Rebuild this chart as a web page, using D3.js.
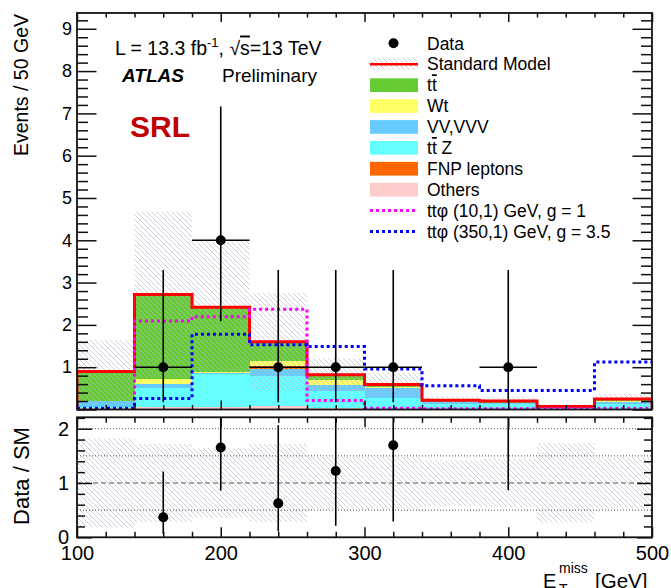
<!DOCTYPE html>
<html>
<head>
<meta charset="utf-8">
<script src="https://cdn.jsdelivr.net/npm/d3@7"></script>
<style>
  body { margin: 0; background: #fff; }
  svg { display: block; }
  text { font-family: "Liberation Sans", Arial, Helvetica, sans-serif; fill: #000; }
</style>
</head>
<body>
<svg id="chart" width="671" height="588"></svg>
<script>
// ---- E_T^miss binning (GeV) ----
const binEdges = [100, 140, 180, 220, 260, 300, 340, 380, 420, 460, 500];

// ---- Standard Model backgrounds, events per bin (stacked bottom to top) ----
const others = [0.03, 0.05, 0.06, 0.08, 0.03, 0.02, 0.01, 0.01, 0.005, 0.01];
const ttZ    = [0.03, 0.45, 0.78, 0.72, 0.41, 0.26, 0.12, 0.11, 0.04, 0.13];
const vvVVV  = [0.13, 0.10, 0.02, 0.16, 0.14, 0.22, 0.04, 0.03, 0.01, 0.03];
const fnp    = [0.00, 0.00, 0.00, 0.06, 0.01, 0.00, 0.00, 0.00, 0.00, 0.00];
const wt     = [0.00, 0.12, 0.02, 0.13, 0.11, 0.03, 0.01, 0.01, 0.00, 0.04];
const ttbar  = [0.71, 2.00, 1.54, 0.45, 0.12, 0.06, 0.04, 0.04, 0.015, 0.04];

// relative total uncertainty on the SM prediction
const smRelUnc = [0.82, 0.72, 0.64, 0.72, 0.48, 0.48, 0.42, 0.45, 0.73, 0.47];

// ---- signal models ----
const sigLight = [0.01, 2.09, 2.19, 2.37, 0.21, 0.03, 0.02, 0.02, 0.02, 0.03]; // ttφ (10,1) GeV, g = 1
const sigHeavy = [0.03, 0.26, 1.78, 1.53, 1.49, 0.96, 0.56, 0.45, 0.45, 1.12]; // ttφ (350,1) GeV, g = 3.5

// ---- observed data with Poisson intervals ----
const dataCounts = [0, 1, 4, 1, 1, 1, 0, 1, 0, 0];
const dataLow    = [0, 0.173, 2.086, 0.173, 0.173, 0.173, 0, 0.173, 0, 0];
const dataHigh   = [0, 3.300, 7.163, 3.300, 3.300, 3.300, 0, 3.300, 0, 0];

// ---- axis ticks ----
const mainYMajor = [0, 1, 2, 3, 4, 5, 6, 7, 8, 9];
const mainYLabels = ["", "1", "2", "3", "4", "5", "6", "7", "8", "9"];
const ratioYMajor = [0, 1, 2];
const xMajor = [100, 200, 300, 400, 500];

const layerKeys = ["others", "ttZ", "vv", "fnp", "wt", "ttbar"];
const layerColor = {
  ttbar: "#66cc33", wt: "#ffff66", vv: "#66ccff",
  ttZ: "#66ffff", fnp: "#ff6600", others: "#ffcccc"
};

const nBins = binEdges.length - 1;
const rows = d3.range(nBins).map(i => ({
  i, others: others[i], ttZ: ttZ[i], vv: vvVVV[i], fnp: fnp[i], wt: wt[i], ttbar: ttbar[i]
}));
const smTotal = rows.map(r => layerKeys.reduce((s, k) => s + r[k], 0));

// ---- geometry ----
const frameL = 77, frameR = 652;
const mainTop = 13, mainBot = 409.5;
const ratTop = 417.3, ratBot = 537.3;

const x = d3.scaleLinear().domain([100, 500]).range([frameL, frameR]);
const yMain = d3.scaleLinear().domain([0, 9.373]).range([mainBot, mainTop]);
const yRat = d3.scaleLinear().domain([0, 2.21]).range([ratBot, ratTop]);

const svg = d3.select("#chart");
const defs = svg.append("defs");

// diagonal hatch for the uncertainty band
const pat = defs.append("pattern")
  .attr("id", "hatch").attr("patternUnits", "userSpaceOnUse")
  .attr("width", 5).attr("height", 5);
pat.append("path")
  .attr("d", "M0,0 L5,5 M-1,4 L1,6 M4,-1 L6,1")
  .attr("stroke", "#babacc").attr("stroke-width", 0.7).attr("fill", "none");

defs.append("clipPath").attr("id", "clipMain").append("rect")
  .attr("x", frameL).attr("y", mainTop).attr("width", frameR - frameL).attr("height", mainBot - mainTop);
defs.append("clipPath").attr("id", "clipRat").append("rect")
  .attr("x", frameL).attr("y", ratTop).attr("width", frameR - frameL).attr("height", ratBot - ratTop);

// ================= main panel =================
const gMain = svg.append("g").attr("clip-path", "url(#clipMain)");

const stacked = d3.stack().keys(layerKeys)(rows);
gMain.selectAll("g.layer").data(stacked).join("g")
  .attr("class", "layer").attr("fill", d => layerColor[d.key])
  .selectAll("rect").data(d => d).join("rect")
  .attr("shape-rendering", "crispEdges")
  .attr("x", d => x(binEdges[d.data.i]))
  .attr("width", d => x(binEdges[d.data.i + 1]) - x(binEdges[d.data.i]))
  .attr("y", d => yMain(d[1]))
  .attr("height", d => Math.max(0, yMain(d[0]) - yMain(d[1])));

// SM uncertainty band
gMain.selectAll("rect.unc").data(d3.range(nBins)).join("rect")
  .attr("class", "unc")
  .attr("x", i => x(binEdges[i]))
  .attr("width", i => x(binEdges[i + 1]) - x(binEdges[i]))
  .attr("y", i => yMain(smTotal[i] * (1 + smRelUnc[i])))
  .attr("height", i => yMain(Math.max(0, smTotal[i] * (1 - smRelUnc[i]))) - yMain(smTotal[i] * (1 + smRelUnc[i])))
  .attr("fill", "url(#hatch)");

// step outlines
const stepLine = d3.line().x(d => x(d[0])).y(d => yMain(d[1])).curve(d3.curveStepAfter);
const smPts = [[100, 0]].concat(d3.range(nBins).map(i => [binEdges[i], smTotal[i]]),
  [[500, smTotal[nBins - 1]], [500, 0]]);
gMain.append("path").attr("d", stepLine(smPts))
  .attr("fill", "none").attr("stroke", "#ff0000").attr("stroke-width", 3);

function sigPts(v) {
  return d3.range(nBins).map(i => [binEdges[i], v[i]]).concat([[500, v[nBins - 1]]]);
}
gMain.append("path").attr("d", stepLine(sigPts(sigLight)))
  .attr("fill", "none").attr("stroke", "#ff00ff").attr("stroke-width", 3)
  .attr("stroke-dasharray", "3,3");
gMain.append("path").attr("d", stepLine(sigPts(sigHeavy)))
  .attr("fill", "none").attr("stroke", "#0000ff").attr("stroke-width", 3)
  .attr("stroke-dasharray", "3,3");

// data points
const dataIdx = d3.range(nBins).filter(i => dataCounts[i] > 0);
const binMid = i => (binEdges[i] + binEdges[i + 1]) / 2;
const gData = gMain.append("g").attr("stroke", "#000").attr("stroke-width", 1.6);
gData.selectAll("line.h").data(dataIdx).join("line").attr("class", "h")
  .attr("x1", i => x(binEdges[i])).attr("x2", i => x(binEdges[i + 1]))
  .attr("y1", i => yMain(dataCounts[i])).attr("y2", i => yMain(dataCounts[i]));
gData.selectAll("line.v").data(dataIdx).join("line").attr("class", "v")
  .attr("x1", i => x(binMid(i))).attr("x2", i => x(binMid(i)))
  .attr("y1", i => yMain(dataLow[i])).attr("y2", i => yMain(dataHigh[i]));
gMain.selectAll("circle.d").data(dataIdx).join("circle").attr("class", "d")
  .attr("cx", i => x(binMid(i))).attr("cy", i => yMain(dataCounts[i])).attr("r", 5).attr("fill", "#000");

// ================= ratio panel =================
const gRat = svg.append("g").attr("clip-path", "url(#clipRat)");
gRat.selectAll("rect.unc").data(d3.range(nBins)).join("rect")
  .attr("x", i => x(binEdges[i]))
  .attr("width", i => x(binEdges[i + 1]) - x(binEdges[i]))
  .attr("y", i => yRat(1 + smRelUnc[i]))
  .attr("height", i => yRat(1 - smRelUnc[i]) - yRat(1 + smRelUnc[i]))
  .attr("fill", "url(#hatch)");

const refLines = [{ v: 0.5, dash: "1,2" }, { v: 1.5, dash: "1,2" }, { v: 2.0, dash: "1,2" }, { v: 1.0, dash: "5,3" }];
gRat.selectAll("line.ref").data(refLines).join("line")
  .attr("x1", frameL).attr("x2", frameR)
  .attr("y1", d => yRat(d.v)).attr("y2", d => yRat(d.v))
  .attr("stroke", "#555").attr("stroke-width", d => d.v === 1 ? 1.2 : 1)
  .attr("stroke-dasharray", d => d.dash);

gRat.selectAll("line.v").data(dataIdx).join("line")
  .attr("stroke", "#000").attr("stroke-width", 1.6)
  .attr("x1", i => x(binMid(i))).attr("x2", i => x(binMid(i)))
  .attr("y1", i => yRat(dataLow[i] / smTotal[i])).attr("y2", i => yRat(dataHigh[i] / smTotal[i]));
gRat.selectAll("circle").data(dataIdx.filter(i => dataCounts[i] / smTotal[i] < 2.21)).join("circle")
  .attr("cx", i => x(binMid(i))).attr("cy", i => yRat(dataCounts[i] / smTotal[i])).attr("r", 5).attr("fill", "#000");

// ================= frames and axes =================
function styleAxis(g, width) {
  g.select(".domain").remove();
  g.selectAll(".tick line").attr("stroke", "#111").attr("stroke-width", width || 1.5);
  g.selectAll(".tick text").attr("fill", "#000");
}
const minorMainY = d3.range(0, 9.37, 0.2).filter(v => Math.abs(v - Math.round(v)) > 1e-6);
const minorRatY = d3.range(0, 2.21, 0.2).filter(v => Math.abs(v - Math.round(v)) > 1e-6);
const minorX = d3.range(120, 500, 20).filter(v => v % 100 !== 0);

// main y axes (left with labels, right ticks only)
svg.append("g").attr("transform", `translate(${frameL},0)`)
  .call(d3.axisLeft(yMain).tickValues(mainYMajor).tickSizeInner(-19.5).tickSizeOuter(0).tickPadding(5)
    .tickFormat((d, i) => mainYLabels[i]))
  .call(g => { styleAxis(g); g.selectAll("text").style("font-size", "18px"); });
svg.append("g").attr("transform", `translate(${frameL},0)`)
  .call(d3.axisLeft(yMain).tickValues(minorMainY).tickSizeInner(-11).tickSizeOuter(0).tickFormat(""))
  .call(g => styleAxis(g));
svg.append("g").attr("transform", `translate(${frameR},0)`)
  .call(d3.axisRight(yMain).tickValues(mainYMajor).tickSizeInner(-19.5).tickSizeOuter(0).tickFormat(""))
  .call(g => styleAxis(g));
svg.append("g").attr("transform", `translate(${frameR},0)`)
  .call(d3.axisRight(yMain).tickValues(minorMainY).tickSizeInner(-11).tickSizeOuter(0).tickFormat(""))
  .call(g => styleAxis(g));

// main x axes (top and bottom ticks only)
[[mainTop, d3.axisBottom], [mainBot, d3.axisTop]].forEach(([yy, ax]) => {
  svg.append("g").attr("transform", `translate(0,${yy})`)
    .call(ax(x).tickValues(xMajor).tickSizeInner(9).tickSizeOuter(0).tickFormat(""))
    .call(g => styleAxis(g));
  svg.append("g").attr("transform", `translate(0,${yy})`)
    .call(ax(x).tickValues(minorX).tickSizeInner(4.5).tickSizeOuter(0).tickFormat(""))
    .call(g => styleAxis(g));
});

// ratio y axes
svg.append("g").attr("transform", `translate(${frameL},0)`)
  .call(d3.axisLeft(yRat).tickValues(ratioYMajor).tickSizeInner(-15).tickSizeOuter(0).tickPadding(8)
    .tickFormat(d3.format("d")))
  .call(g => { styleAxis(g); g.selectAll("text").style("font-size", "20px"); });
svg.append("g").attr("transform", `translate(${frameL},0)`)
  .call(d3.axisLeft(yRat).tickValues(minorRatY).tickSizeInner(-8).tickSizeOuter(0).tickFormat(""))
  .call(g => styleAxis(g));
svg.append("g").attr("transform", `translate(${frameR},0)`)
  .call(d3.axisRight(yRat).tickValues(ratioYMajor).tickSizeInner(-15).tickSizeOuter(0).tickFormat(""))
  .call(g => styleAxis(g));
svg.append("g").attr("transform", `translate(${frameR},0)`)
  .call(d3.axisRight(yRat).tickValues(minorRatY).tickSizeInner(-8).tickSizeOuter(0).tickFormat(""))
  .call(g => styleAxis(g));

// ratio x axes
svg.append("g").attr("transform", `translate(0,${ratTop})`)
  .call(d3.axisBottom(x).tickValues(xMajor).tickSizeInner(10).tickSizeOuter(0).tickFormat(""))
  .call(g => styleAxis(g));
svg.append("g").attr("transform", `translate(0,${ratTop})`)
  .call(d3.axisBottom(x).tickValues(minorX).tickSizeInner(5.5).tickSizeOuter(0).tickFormat(""))
  .call(g => styleAxis(g));
svg.append("g").attr("transform", `translate(0,${ratBot})`)
  .call(d3.axisBottom(x).tickValues(xMajor).tickSizeInner(-10).tickSizeOuter(0).tickPadding(8.5)
    .tickFormat(d3.format("d")))
  .call(g => { styleAxis(g); g.selectAll("text").style("font-size", "20px"); });
svg.append("g").attr("transform", `translate(0,${ratBot})`)
  .call(d3.axisBottom(x).tickValues(minorX).tickSizeInner(-5.5).tickSizeOuter(0).tickFormat(""))
  .call(g => styleAxis(g));

// frames
[[mainTop, mainBot], [ratTop, ratBot]].forEach(([t, b]) => {
  svg.append("rect").attr("x", frameL).attr("y", t).attr("width", frameR - frameL).attr("height", b - t)
    .attr("fill", "none").attr("stroke", "#111").attr("stroke-width", 1.8);
});

// ================= titles and labels =================
svg.append("text").attr("transform", "translate(28,14) rotate(-90)")
  .attr("text-anchor", "end").style("font-size", "19.5px").text("Events / 50 GeV");
svg.append("text").attr("transform", "translate(29,476) rotate(-90)")
  .attr("text-anchor", "middle").style("font-size", "22px").text("Data / SM");

// x title: E_T^miss [GeV]
svg.append("text").attr("x", 543).attr("y", 587.5).style("font-size", "20px").text("E");
svg.append("text").attr("x", 559).attr("y", 573).style("font-size", "14px").text("miss");
svg.append("text").attr("x", 559).attr("y", 594).style("font-size", "14px").text("T");
svg.append("text").attr("x", 595).attr("y", 587.5).style("font-size", "20.5px").text("[GeV]");

// luminosity and energy
const lumi = svg.append("text").attr("x", 115).attr("y", 54.5).style("font-size", "19.5px");
lumi.append("tspan").text("L = 13.3 fb");
lumi.append("tspan").attr("dy", -8).style("font-size", "13px").text("-1");
lumi.append("tspan").attr("dy", 8).text(", √");
lumi.append("tspan").style("text-decoration", "overline").text("s");
lumi.append("tspan").text("=13 TeV");

svg.append("text").attr("x", 122).attr("y", 82).style("font-size", "19px")
  .style("font-weight", "bold").style("font-style", "italic").text("ATLAS");
svg.append("text").attr("x", 222).attr("y", 82).style("font-size", "19px").text("Preliminary");
svg.append("text").attr("x", 130).attr("y", 137).style("font-size", "30px")
  .style("font-weight", "bold").style("fill", "#c00000").text("SRL");

// ================= legend =================
const legX0 = 370, legX1 = 418, legTextX = 427, legRow0 = 43.3, legDy = 20.9;
const legendEntries = [
  { kind: "data", label: [["Data"]] },
  { kind: "sm", label: [["Standard Model"]] },
  { kind: "box", key: "ttbar", label: [["t"], ["t", true]] },
  { kind: "box", key: "wt", label: [["Wt"]] },
  { kind: "box", key: "vv", label: [["VV,VVV"]] },
  { kind: "box", key: "ttZ", label: [["t"], ["t", true], [" Z"]] },
  { kind: "box", key: "fnp", label: [["FNP leptons"]] },
  { kind: "box", key: "others", label: [["Others"]] },
  { kind: "line", color: "#ff00ff", label: [["ttφ (10,1) GeV, g = 1"]] },
  { kind: "line", color: "#0000ff", label: [["ttφ (350,1) GeV, g = 3.5"]] }
];
const gLeg = svg.append("g");
legendEntries.forEach((e, i) => {
  const cy = legRow0 + i * legDy;
  if (e.kind === "data") {
    gLeg.append("circle").attr("cx", (legX0 + legX1) / 2 - 0.5).attr("cy", cy).attr("r", 5).attr("fill", "#000");
  } else if (e.kind === "sm") {
    gLeg.append("rect").attr("x", legX0).attr("y", cy - 6.5).attr("width", legX1 - legX0).attr("height", 12)
      .attr("fill", "url(#hatch)");
    gLeg.append("line").attr("x1", legX0).attr("x2", legX1).attr("y1", cy).attr("y2", cy)
      .attr("stroke", "#ff0000").attr("stroke-width", 2.5);
  } else if (e.kind === "box") {
    gLeg.append("rect").attr("x", legX0).attr("y", cy - 6.8).attr("width", legX1 - legX0).attr("height", 13.7)
      .attr("fill", layerColor[e.key]);
  } else {
    gLeg.append("line").attr("x1", legX0).attr("x2", legX1).attr("y1", cy).attr("y2", cy)
      .attr("stroke", e.color).attr("stroke-width", 3).attr("stroke-dasharray", "3,3");
  }
  const t = gLeg.append("text").attr("x", legTextX).attr("y", cy + 6.2).style("font-size", "17.5px");
  e.label.forEach(([s, over]) => {
    const sp = t.append("tspan").text(s);
    if (over) sp.style("text-decoration", "overline");
  });
});
</script>
</body>
</html>
